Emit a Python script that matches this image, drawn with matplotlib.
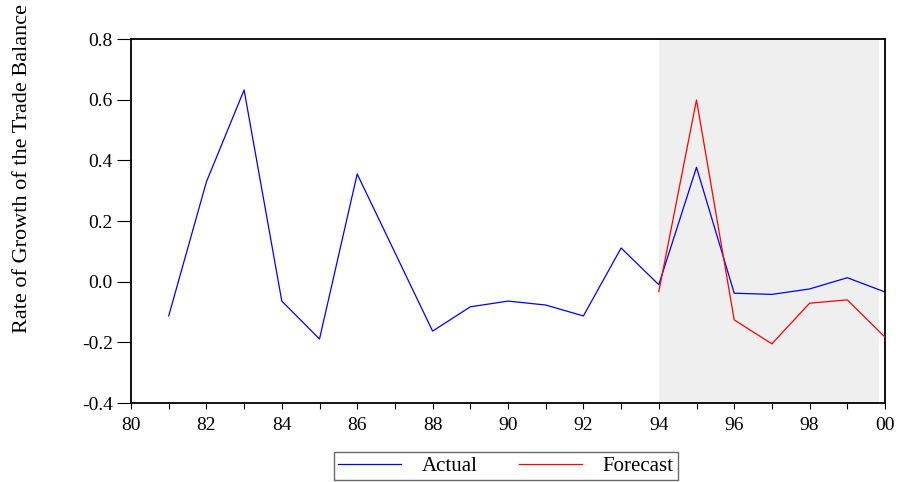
import matplotlib
matplotlib.use("Agg")
import matplotlib.pyplot as plt
import numpy as np

plt.rcParams['font.family'] = ['Liberation Serif', 'DejaVu Serif']

# data
years_actual = [81, 82, 83, 84, 85, 86, 87, 88, 89, 90, 91, 92, 93, 94, 95, 96, 97, 98, 99, 100]
actual = [-0.113, 0.329, 0.632, -0.064, -0.189, 0.355, 0.096, -0.163, -0.083, -0.064,
          -0.077, -0.113, 0.111, -0.010, 0.377, -0.038, -0.042, -0.024, 0.013, -0.034]
years_forecast = [94, 95, 96, 97, 98, 99, 100]
forecast = [-0.033, 0.599, -0.126, -0.205, -0.071, -0.060, -0.183]
shade_start, shade_end = 94, 99.85
xtick_vals = [80, 82, 84, 86, 88, 90, 92, 94, 96, 98, 100]
xtick_labels = ['80', '82', '84', '86', '88', '90', '92', '94', '96', '98', '00']
ytick_vals = [-0.4, -0.2, 0.0, 0.2, 0.4, 0.6, 0.8]

W, H = 903, 482
fig = plt.figure(figsize=(W / 100, H / 100), dpi=100)
ax = fig.add_axes([131 / W, 1 - 403 / H, (885 - 131) / W, (403 - 39) / H])

ax.axvspan(shade_start, shade_end, color='#efefef', lw=0, zorder=0)
ax.plot(years_actual, actual, color='#0000ff', lw=0.9, label='Actual', zorder=2)
ax.plot(years_forecast, forecast, color='#ff0000', lw=0.9, label='Forecast', zorder=3)

ax.set_xlim(80, 100)
ax.set_ylim(-0.4, 0.8)
ax.set_xticks(xtick_vals)
ax.set_xticklabels(xtick_labels)
ax.set_xticks(np.arange(80, 101, 1), minor=True)
ax.set_yticks(ytick_vals)
ax.set_yticklabels(['%.1f' % v for v in ytick_vals])
ax.tick_params(axis='both', which='both', direction='out', width=0.8,
               labelsize=14, colors='black')
ax.tick_params(axis='x', which='both', length=4, pad=6)
ax.tick_params(axis='y', length=10, pad=3)
for s in ax.spines.values():
    s.set_linewidth(1.3)

# y label runs nearly to the top edge, as in the reference
fig.text(23 / W, 1 - 333 / H, 'Rate of Growth of the Trade Balance', rotation=90,
         ha='center', va='bottom', fontsize=16)

fig.legend(loc='center', bbox_to_anchor=(506 / W, 1 - 466 / H), ncol=2, frameon=True,
           fancybox=False, edgecolor='#444444', fontsize=15, handlelength=3.0,
           columnspacing=2.0, borderpad=0.2, handletextpad=1.0)

fig.savefig('out.png', dpi=100)
